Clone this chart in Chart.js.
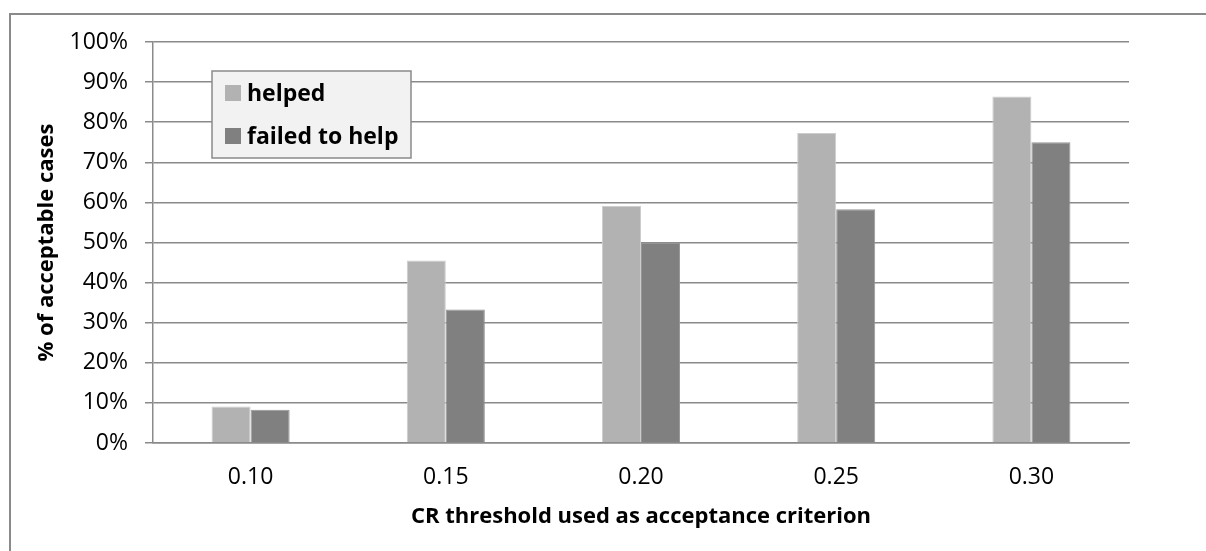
<!DOCTYPE html>
<html><head><meta charset="utf-8">
<script src="https://cdn.jsdelivr.net/npm/chart.js@4/dist/chart.umd.min.js"></script>
<style>
html,body{margin:0;padding:0;background:#fff;overflow:hidden}
#wrap{position:absolute;left:0;top:0;width:1206px;height:551px;overflow:hidden}
#frame{position:absolute;left:9px;top:13px;width:1400px;height:800px;border:2px solid #8a8a8a;box-sizing:border-box}
canvas{position:absolute;left:0;top:0}
</style></head><body>
<div id="wrap"><div id="frame"></div><canvas id="c" width="1206" height="551"></canvas></div>
<script>
const categories = ['0.10', '0.15', '0.20', '0.25', '0.30'];
const helped = [9.1, 45.5, 59.1, 77.3, 86.4];
const failedToHelp = [8.3, 33.3, 50.0, 58.3, 75.0];
const seriesNames = ['helped', 'failed to help'];
const yMin = 0, yMax = 100, yStep = 10;
const xTitle = 'CR threshold used as acceptance criterion';
const yTitle = '% of acceptable cases';

const FONT = "'Open Sans', sans-serif";
const GRID = '#8a8a8a';

const legendBox = {
  id: 'legendBox',
  afterDatasetsDraw(chart) {
    const ctx = chart.ctx;
    const x = 212, y = 71, w = 199, h = 87;
    ctx.save();
    ctx.fillStyle = '#f2f2f2';
    ctx.fillRect(x, y, w, h);
    ctx.strokeStyle = '#8a8a8a';
    ctx.lineWidth = 1.5;
    ctx.strokeRect(x, y, w, h);
    const rows = [93, 136];
    chart.data.datasets.forEach((ds, i) => {
      ctx.fillStyle = ds.backgroundColor;
      ctx.fillRect(225, rows[i] - 8, 16, 16);
      ctx.fillStyle = '#000';
      ctx.font = "bold 23px " + FONT;
      ctx.textBaseline = 'middle';
      ctx.textAlign = 'left';
      ctx.fillText(ds.label, 247, rows[i] + 1);
    });
    ctx.restore();
  }
};

new Chart(document.getElementById('c'), {
  type: 'bar',
  data: {
    labels: categories,
    datasets: [
      { label: seriesNames[0], data: helped, backgroundColor: '#b2b2b2', borderColor: '#cdcdcd', borderWidth: 1,
        categoryPercentage: 0.4, barPercentage: 1.0 },
      { label: seriesNames[1], data: failedToHelp, backgroundColor: '#808080', borderColor: '#959595', borderWidth: 1,
        categoryPercentage: 0.4, barPercentage: 1.0 }
    ]
  },
  options: {
    responsive: false,
    animation: false,
    devicePixelRatio: 1,
    layout: { padding: { left: 0, top: 42, right: 77, bottom: 0 } },
    plugins: { legend: { display: false }, tooltip: { enabled: false } },
    scales: {
      x: {
        afterFit(s) { s.height = 108; },
        grid: { display: false, drawTicks: false },
        border: { display: true, color: GRID, width: 1.5 },
        ticks: { color: '#000', font: { family: FONT, size: 23 }, padding: 21 },
        title: { display: true, text: xTitle, color: '#000',
          font: { family: FONT, size: 22, weight: 'bold' }, padding: { top: 0, bottom: 21 } }
      },
      y: {
        min: yMin, max: yMax,
        afterFit(s) { s.width = 153; },
        grid: { color: GRID, lineWidth: 1.5, tickLength: 8, drawTicks: true },
        border: { display: true, color: GRID, width: 1.5 },
        ticks: { stepSize: yStep, color: '#000', font: { family: FONT, size: 23 }, padding: 17,
          callback: v => v + '%' },
        title: { display: true, text: yTitle, color: '#000',
          font: { family: FONT, size: 22, weight: 'bold' }, padding: { top: 34, bottom: 0 } }
      }
    }
  },
  plugins: [legendBox]
});
</script>
</body></html>
